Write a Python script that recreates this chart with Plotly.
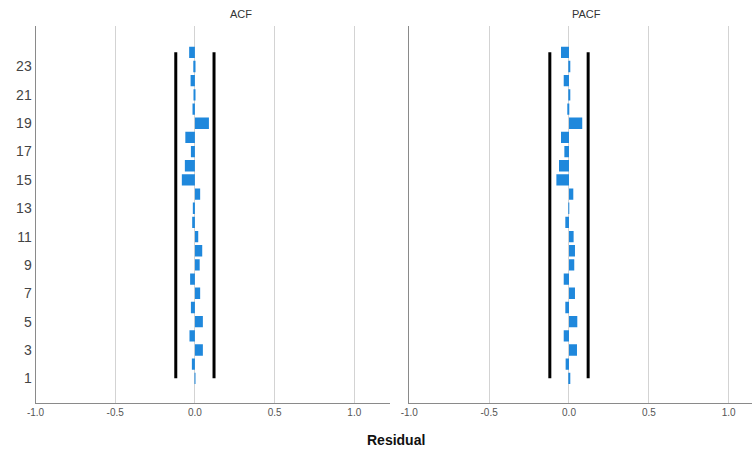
import plotly.graph_objects as go

lags = list(range(1, 25))
acf = [0.002, -0.019, 0.05, -0.034, 0.05, -0.025, 0.033, -0.03, 0.03, 0.046,
       0.021, -0.017, -0.013, 0.033, -0.082, -0.063, -0.025, -0.06, 0.088, -0.015,
       -0.005, -0.027, -0.01, -0.036]
pacf = [0.002, -0.021, 0.05, -0.033, 0.052, -0.023, 0.0375, -0.033, 0.033, 0.0375,
        0.029, -0.023, -0.004, 0.027, -0.079, -0.0625, -0.029, -0.05, 0.083, -0.01,
        0.002, -0.033, 0.002, -0.05]
upper_limit = [0.12] * 24
lower_limit = [-0.12] * 24
panel_titles = ["ACF", "PACF"]
x_tickvals = [-1.0, -0.5, 0.0, 0.5, 1.0]
x_ticktext = ["-1.0", "-0.5", "0.0", "0.5", "1.0"]
y_tickvals = [1, 3, 5, 7, 9, 11, 13, 15, 17, 19, 21, 23]
axis_title = "Residual"

W, H = 752, 453
BAR = "#1f88dc"

fig = go.Figure()
for i, (vals, xa, ya) in enumerate([(acf, "x", "y"), (pacf, "x2", "y2")]):
    fig.add_trace(go.Bar(x=vals, y=lags, orientation="h", width=0.8,
                         marker=dict(color=BAR, line=dict(width=0)),
                         xaxis=xa, yaxis=ya, showlegend=False))
    fig.add_trace(go.Scatter(x=upper_limit, y=lags, mode="lines",
                             line=dict(color="black", width=3),
                             xaxis=xa, yaxis=ya, showlegend=False))
    fig.add_trace(go.Scatter(x=lower_limit, y=lags, mode="lines",
                             line=dict(color="black", width=3),
                             xaxis=xa, yaxis=ya, showlegend=False))

ydom = [(H - 402.7) / H, (H - 26) / H]
yrange = [-0.72, 25.86]
xcommon = dict(tickvals=x_tickvals, ticktext=x_ticktext, showgrid=True,
               gridcolor="#d3d3d3", gridwidth=1, zeroline=False, automargin=False,
               showline=True, linecolor="#8a8a8a", linewidth=1, ticks="",
               tickfont=dict(family="Liberation Sans, Arial", size=10, color="#555555"),
               fixedrange=True)
ycommon = dict(range=yrange, domain=ydom, showgrid=False, zeroline=False, automargin=False,
               showline=True, linecolor="#8a8a8a", linewidth=1, ticks="",
               fixedrange=True)

fig.update_layout(
    width=W, height=H, margin=dict(l=0, r=0, t=0, b=0, autoexpand=False),
    paper_bgcolor="white", plot_bgcolor="white", showlegend=False,
    barmode="overlay",
    xaxis=dict(domain=[35.5 / W, 390 / W], range=[-1.0, 1.224], anchor="y", **xcommon),
    xaxis2=dict(domain=[409.3 / W, 1.0], range=[-1.0, 1.146], anchor="y2", **xcommon),
    yaxis=dict(anchor="x", tickvals=y_tickvals, ticktext=[str(v) for v in y_tickvals],
               tickfont=dict(family="Liberation Sans, Arial", size=14, color="#444444"),
               **ycommon),
    yaxis2=dict(anchor="x2", showticklabels=False, **ycommon),
    annotations=[
        dict(text=panel_titles[0], x=228 / W, y=(H - 14) / H, xref="paper", yref="paper",
             yanchor="middle", showarrow=False,
             font=dict(family="Liberation Sans, Arial", size=11, color="#333333")),
        dict(text=panel_titles[1], x=603 / W, y=(H - 14) / H, xref="paper", yref="paper",
             yanchor="middle", showarrow=False,
             font=dict(family="Liberation Sans, Arial", size=11, color="#333333")),
        dict(text="<b>" + axis_title + "</b>", x=396 / W, y=(H - 440) / H, xref="paper", yref="paper",
             yanchor="middle", showarrow=False,
             font=dict(family="Liberation Sans, Arial", size=14, color="#111111")),
    ],
)

fig.write_html("out.html")
